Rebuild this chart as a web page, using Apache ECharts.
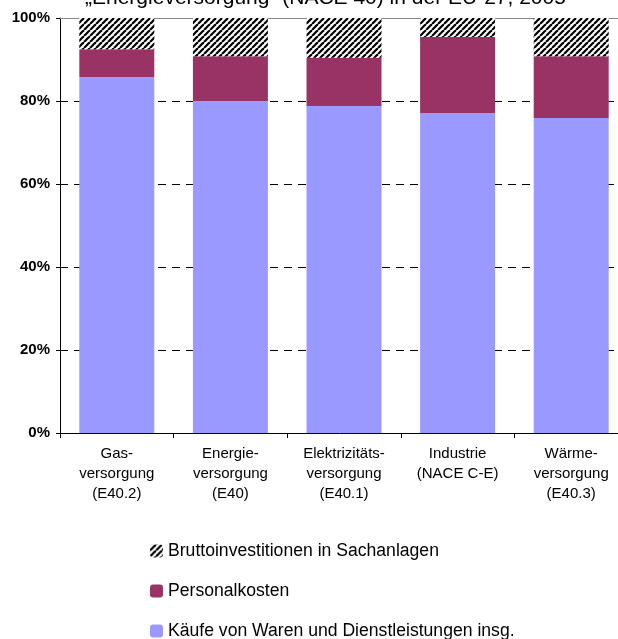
<!DOCTYPE html>
<html><head><meta charset="utf-8">
<script src="https://cdn.jsdelivr.net/npm/echarts@6/dist/echarts.min.js"></script>
<style>html,body{margin:0;padding:0;background:#fff}#c{width:618px;height:639px}</style>
</head><body><div id="c"></div>
<script>
var categories = ['Gas-\nversorgung\n(E40.2)', 'Energie-\nversorgung\n(E40)', 'Elektrizitäts-\nversorgung\n(E40.1)', 'Industrie\n(NACE C-E)', 'Wärme-\nversorgung\n(E40.3)'];
var kaeufe = [85.8, 80.0, 78.8, 77.1, 75.9];
var personal = [6.7, 10.8, 11.6, 18.3, 14.9];
var brutto = [7.5, 9.2, 9.6, 4.6, 9.2];
var yTicks = [0, 20, 40, 60, 80, 100];

function hatch() {
  var s = 6, c = document.createElement('canvas');
  c.width = s; c.height = s;
  var g = c.getContext('2d');
  g.fillStyle = '#fff'; g.fillRect(0, 0, s, s);
  g.strokeStyle = '#000'; g.lineWidth = 2.2;
  for (var k = -1; k <= 1; k++) {
    g.beginPath(); g.moveTo(k * s, s); g.lineTo(k * s + s, 0); g.stroke();
  }
  return c;
}
var hatchColor = { image: hatch(), repeat: 'repeat' };

var chart = echarts.init(document.getElementById('c'), null, { renderer: 'canvas' });
var font = 'Liberation Sans, Arial, sans-serif';
chart.setOption({
  animation: false,
  title: { text: '„Energieversorgung“ (NACE 40) in der EU-27, 2005', left: 80, top: -17,
    textStyle: { fontFamily: font, fontSize: 21, fontWeight: 'normal', color: '#000' } },
  grid: { left: 60, top: 18, width: 568, height: 415, outerBoundsMode: 'none', containLabel: false },
  legend: {
    orient: 'vertical', left: 145, top: 537, height: 120, itemWidth: 13, itemHeight: 13, itemGap: 22,
    textStyle: { fontFamily: font, fontSize: 17.6, color: '#000' },
    data: ['Bruttoinvestitionen in Sachanlagen', 'Personalkosten', 'Käufe von Waren und Dienstleistungen insg.']
  },
  xAxis: [{
    type: 'category', data: categories,
    axisLine: { lineStyle: { color: '#000', width: 1 } },
    axisTick: { show: true, length: 5, lineStyle: { color: '#000' } },
    axisLabel: { interval: 0, margin: 11, lineHeight: 20, fontFamily: font, fontSize: 15, color: '#000' }
  }, {
    type: 'category', data: categories, position: 'top',
    axisLine: { show: true, lineStyle: { color: '#888', width: 1 } },
    axisTick: { show: false }, axisLabel: { show: false }
  }],
  yAxis: {
    type: 'value', min: 0, max: 100, interval: 20,
    axisLine: { show: true, lineStyle: { color: '#000', width: 1 } },
    axisTick: { show: true, length: 4, lineStyle: { color: '#000' } },
    axisLabel: { formatter: function (v) { return yTicks.indexOf(v) >= 0 ? v + '%' : ''; }, margin: 10,
      fontFamily: font, fontSize: 15, fontWeight: 'bold', color: '#000' },
    splitLine: { show: true, lineStyle: { color: '#000', type: [8, 6], width: 1 } }
  },
  series: [
    { name: 'Käufe von Waren und Dienstleistungen insg.', type: 'bar', stack: 's', data: kaeufe,
      barCategoryGap: '34%', itemStyle: { color: '#9999FF' } },
    { name: 'Personalkosten', type: 'bar', stack: 's', data: personal, itemStyle: { color: '#993366' } },
    { name: 'Bruttoinvestitionen in Sachanlagen', type: 'bar', stack: 's', data: brutto, itemStyle: { color: hatchColor } }
  ]
});
</script></body></html>
